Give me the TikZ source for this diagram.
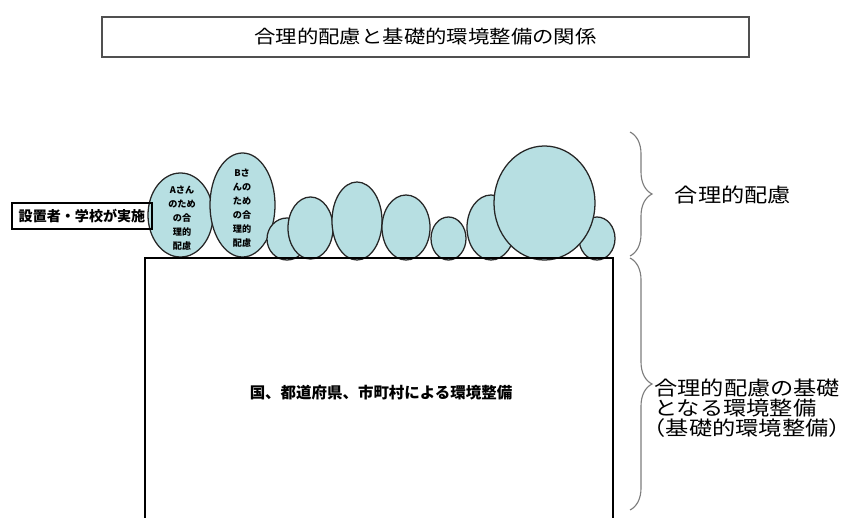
\documentclass[tikz,border=0pt]{standalone}
\usepackage{fontspec}
\setmainfont{Noto Sans CJK JP}
\usetikzlibrary{shapes.geometric,decorations.pathreplacing}

\definecolor{bubblecyan}{RGB}{183,223,226}
\definecolor{framegray}{RGB}{80,80,80}
\definecolor{bracegray}{RGB}{125,125,125}

\tikzset{
	bubble/.style={ellipse, draw=black!85, fill=bubblecyan, line width=0.9pt, inner sep=0pt},
	bubbletext/.style={align=center, font=\fontsize{6.5}{10}\selectfont\bfseries, inner sep=0pt},
	sidebrace/.style={decorate, decoration={brace, amplitude=0.55cm}, draw=bracegray, line width=0.8pt},
	sidelabel/.style={font=\fontsize{14}{14.2}\selectfont, xscale=1.18, inner sep=0pt}
}

\begin{document}
\begin{tikzpicture}[x=0.025cm, y=-0.025cm]
		
		\useasboundingbox (0,0) rectangle (853,518);
		
		%Title
		\node (titlebox) at (425.5,37) [rectangle, draw=framegray, line width=1.5pt, minimum width=16.15cm, 
		minimum height=1.0cm]{};
		\node (title) at (titlebox) [font=\fontsize{13}{13}\selectfont, xscale=1.17]{合理的配慮と基礎的環境整備の関係};
		
		%Bubbles
		\node (bubbleA) at (180.5,215) [bubble, minimum width=1.625cm, minimum height=2.1cm]{};
		\node (bubbleB) at (242.5,205) [bubble, minimum width=1.625cm, minimum height=2.6cm]{};
		\node (bubbleC) at (287,239) [bubble, minimum width=1.0cm, minimum height=1.05cm]{};
		\node (bubbleD) at (310.5,228) [bubble, minimum width=1.125cm, minimum height=1.55cm]{};
		\node (bubbleE) at (357,221) [bubble, minimum width=1.25cm, minimum height=1.95cm]{};
		\node (bubbleF) at (406,227.5) [bubble, minimum width=1.2cm, minimum height=1.625cm]{};
		\node (bubbleG) at (448.5,238.5) [bubble, minimum width=0.875cm, minimum height=1.075cm]{};
		\node (bubbleH) at (491,227.5) [bubble, minimum width=1.2cm, minimum height=1.625cm]{};
		\node (bubbleJ) at (597,238.5) [bubble, minimum width=0.9cm, minimum height=1.075cm]{};
		\node (bubbleI) at (544.5,203) [bubble, minimum width=2.525cm, minimum height=2.85cm]{};
		
		\node (textA) at (182,218) [bubbletext]{Aさん\\のため\\の合\\理的\\配慮};
		\node (textB) at (242,208) [bubbletext]{Bさ\\んの\\ため\\の合\\理的\\配慮};
		
		%Base
		\draw[line width=2pt] (145,518) -- (145,258) -- (613,258) -- (613,518);
		\node (basetext) at (381,393) [font=\fontsize{11}{11}\selectfont\bfseries]{国、都道府県、市町村による環境整備};
		
		%School box
		\node (schoolbox) at (82,216) [rectangle, draw, line width=1.3pt, minimum width=3.5cm, 
		minimum height=0.65cm, font=\fontsize{10}{10}\selectfont\bfseries, inner sep=0pt]{設置者・学校が実施};
		
		%Braces
		\draw[sidebrace] (630,132) -- (630,256);
		\draw[sidebrace] (630,258) -- (630,510);
		
		%Names
		\node (accomlabel) at (733,195) [sidelabel]{合理的配慮};
		\node (baselabel) at (654,408) [sidelabel, anchor=west, align=left]{合理的配慮の基礎\\となる環境整備\\
		\kern-0.5em（基礎的環境整備）\kern-0.5em};
		
\end{tikzpicture}
\end{document}
